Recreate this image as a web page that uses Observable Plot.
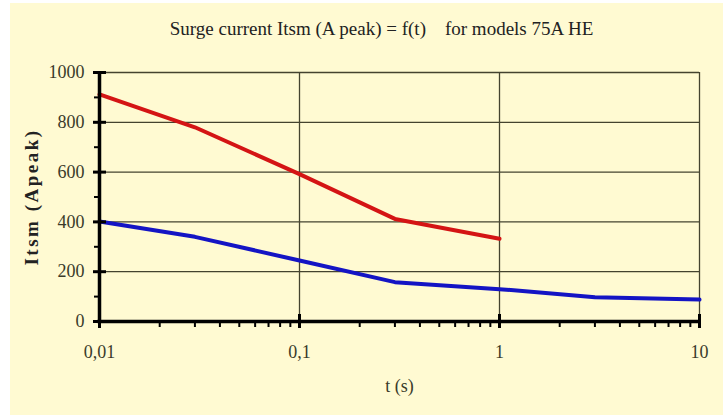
<!DOCTYPE html>
<html>
<head>
<meta charset="utf-8">
<script src="https://cdn.jsdelivr.net/npm/d3@7"></script>
<script src="https://cdn.jsdelivr.net/npm/@observablehq/plot@0.6"></script>
<style>
  html, body { margin: 0; padding: 0; background: #ffffff; }
  .ylab text { letter-spacing: 2.5px; }
</style>
</head>
<body>
<div id="chart"></div>
<script>
// Data
const timeRed = [0.01, 0.03, 0.1, 0.3, 1];
const itsmRed = [912, 780, 592, 412, 332];
const timeBlue = [0.01, 0.03, 0.1, 0.3, 1, 3, 10];
const itsmBlue = [402, 340, 245, 158, 130, 97, 88];

const titleText = "Surge current Itsm (A peak) = f(t)    for models 75A HE";
const yLabel = "Itsm (Apeak)";
const xLabel = "t (s)";

const xMajor = [0.01, 0.1, 1, 10];
const xMajorLabels = ["0,01", "0,1", "1", "10"];
const xMinor = [0.02,0.03,0.04,0.05,0.06,0.07,0.08,0.09,0.2,0.3,0.4,0.5,0.6,0.7,0.8,0.9,2,3,4,5,6,7,8,9];
const yMajor = [0, 200, 400, 600, 800, 1000];
const yMinor = [100, 300, 500, 700, 900];

const red = timeRed.map((t, i) => ({t, v: itsmRed[i]}));
const blue = timeBlue.map((t, i) => ({t, v: itsmBlue[i]}));

const W = 723, H = 416, mL = 99, mR = 24, mT = 72, mB = 95;
const fw = W - mL - mR, fh = H - mT - mB;
const font = "'Liberation Serif', 'DejaVu Serif', serif";
const ink = "#3a3a2a";

const plot = Plot.plot({
  width: W, height: H,
  marginLeft: mL, marginRight: mR, marginTop: mT, marginBottom: mB,
  style: {
    fontFamily: font,
    background: "linear-gradient(#fffad2,#fffad2) no-repeat 10px 3px / 713px 412px",
    overflow: "visible"
  },
  x: {type: "log", domain: [0.01, 10], axis: null},
  y: {domain: [0, 1000], axis: null},
  marks: [
    // grid
    Plot.ruleY(yMajor.filter(d => d > 0), {y: d => d, stroke: "#44432f", strokeWidth: 1.3}),
    Plot.ruleX(xMajor.filter(d => d > 0.01), {x: d => d, stroke: "#44432f", strokeWidth: 1.3}),
    // data lines
    Plot.line(red, {x: "t", y: "v", stroke: "#d41414", strokeWidth: 4, strokeLinejoin: "round"}),
    Plot.line(blue, {x: "t", y: "v", stroke: "#1414c4", strokeWidth: 4, strokeLinejoin: "round"}),
    // axes lines
    Plot.ruleX([0.01], {x: d => d, stroke: "#000", strokeWidth: 3.5, insetBottom: -1.5}),
    Plot.ruleY([0], {y: d => d, stroke: "#000", strokeWidth: 3.5, insetLeft: -1.5}),
    // x ticks
    Plot.ruleX(xMajor, {x: d => d, stroke: "#000", strokeWidth: 3, insetTop: fh - 7, insetBottom: -7}),
    Plot.ruleX(xMinor, {x: d => d, stroke: "#000", strokeWidth: 2, insetTop: fh, insetBottom: -6}),
    // y ticks
    Plot.ruleY(yMajor, {y: d => d, stroke: "#000", strokeWidth: 3, insetLeft: -6, insetRight: fw - 7}),
    Plot.ruleY(yMinor, {y: d => d, stroke: "#000", strokeWidth: 2, insetLeft: -5, insetRight: fw}),
    // tick labels
    Plot.text(yMajor, {x: 0.01, y: d => d, text: d => String(d), textAnchor: "end", dx: -15, fontSize: 18, fill: ink}),
    Plot.text(xMajor, {x: d => d, y: 0, text: (d, i) => xMajorLabels[i], dy: 31, fontSize: 18, fill: ink}),
    // titles
    Plot.text([titleText], {frameAnchor: "top", dx: -18, dy: -51, fontSize: 19, fill: "#222"}),
    Plot.text([yLabel], {frameAnchor: "left", textAnchor: "middle", dx: -68, rotate: -90, fontSize: 19, fontWeight: "bold", fill: "#222", className: "ylab"}),
    Plot.text([xLabel], {frameAnchor: "bottom", dy: 70, fontSize: 18, fill: ink})
  ]
});
document.getElementById("chart").appendChild(plot);
</script>
</body>
</html>
